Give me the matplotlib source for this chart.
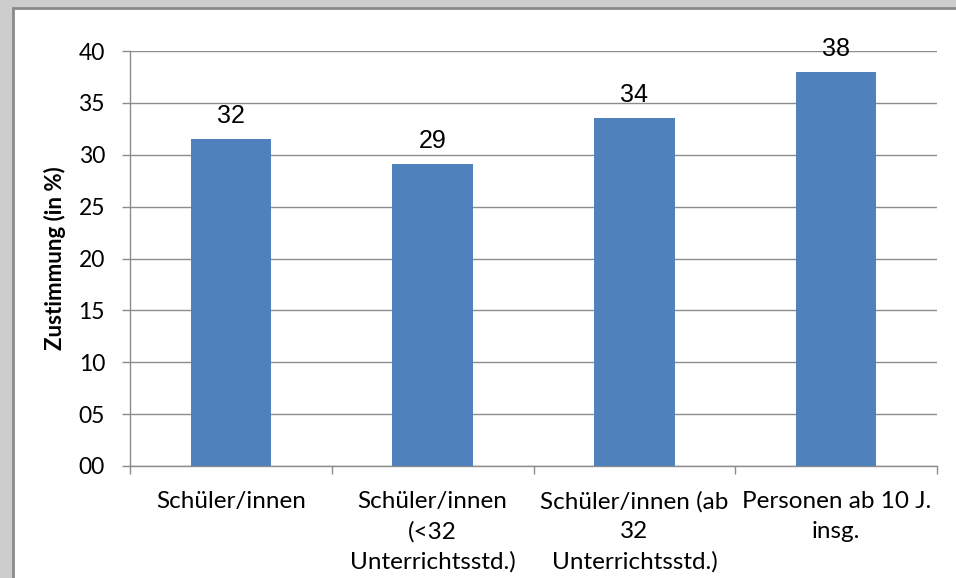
import matplotlib.pyplot as plt
from matplotlib.patches import Rectangle
import numpy as np

# data
categories = ["Schüler/innen",
              "Schüler/innen\n(<32\nUnterrichtsstd.)",
              "Schüler/innen (ab\n32\nUnterrichtsstd.)",
              "Personen ab 10 J.\ninsg."]
values = [31.5, 29.1, 33.5, 38.0]
value_labels = ["32", "29", "34", "38"]
y_ticks = [0, 5, 10, 15, 20, 25, 30, 35, 40]

fig = plt.figure(figsize=(9.56, 5.78), dpi=100)
fig.patch.set_facecolor("#cdcdcd")

# white chart panel with a grey frame (runs off the right and bottom edges)
fig.patches.append(Rectangle((13 / 956, -0.1), 1.1, 1.1 - 8 / 578, transform=fig.transFigure,
                             facecolor="white", edgecolor="#8a8a8a", linewidth=2, zorder=-10))

ax = fig.add_axes([130 / 956, 1 - 466 / 578, (937 - 130) / 956, (466 - 51) / 578])
ax.set_facecolor("white")

x = np.arange(len(categories))
ax.bar(x, values, width=0.4, color="#4f81bd", zorder=3)

for xi, v, lab in zip(x, values, value_labels):
    ax.annotate(lab, (xi, v), xytext=(0, 8), textcoords="offset points",
                ha="center", va="bottom", fontsize=18,
                family="Liberation Sans", color="black")

ax.set_xlim(-0.5, len(categories) - 0.5)
ax.set_ylim(0, 40)
ax.set_yticks(y_ticks)
ax.set_yticklabels([f"{t:02d}" for t in y_ticks], fontsize=16.5, family="Lato")
ax.yaxis.grid(True, color="#8c8c8c", linewidth=1, zorder=0)

# category labels centered, tick marks at boundaries
ax.set_xticks(x)
ax.set_xticklabels(categories, fontsize=17.5, family="Lato", linespacing=1.5, va="top")
ax.tick_params(axis="x", length=0, pad=18)
ax.set_xticks(np.arange(len(categories) + 1) - 0.5, minor=True)
ax.tick_params(axis="x", which="minor", length=6, color="#8c8c8c", width=1)
ax.tick_params(axis="y", length=6, color="#8c8c8c", width=1, pad=12)

for s in ["top", "right"]:
    ax.spines[s].set_visible(False)
for s in ["left", "bottom"]:
    ax.spines[s].set_color("#8c8c8c")
    ax.spines[s].set_linewidth(1)

ax.set_ylabel("Zustimmung (in %)", fontsize=16, fontweight="bold",
              family="Lato", labelpad=9)

fig.savefig("out.png", dpi=100, facecolor=fig.get_facecolor())
